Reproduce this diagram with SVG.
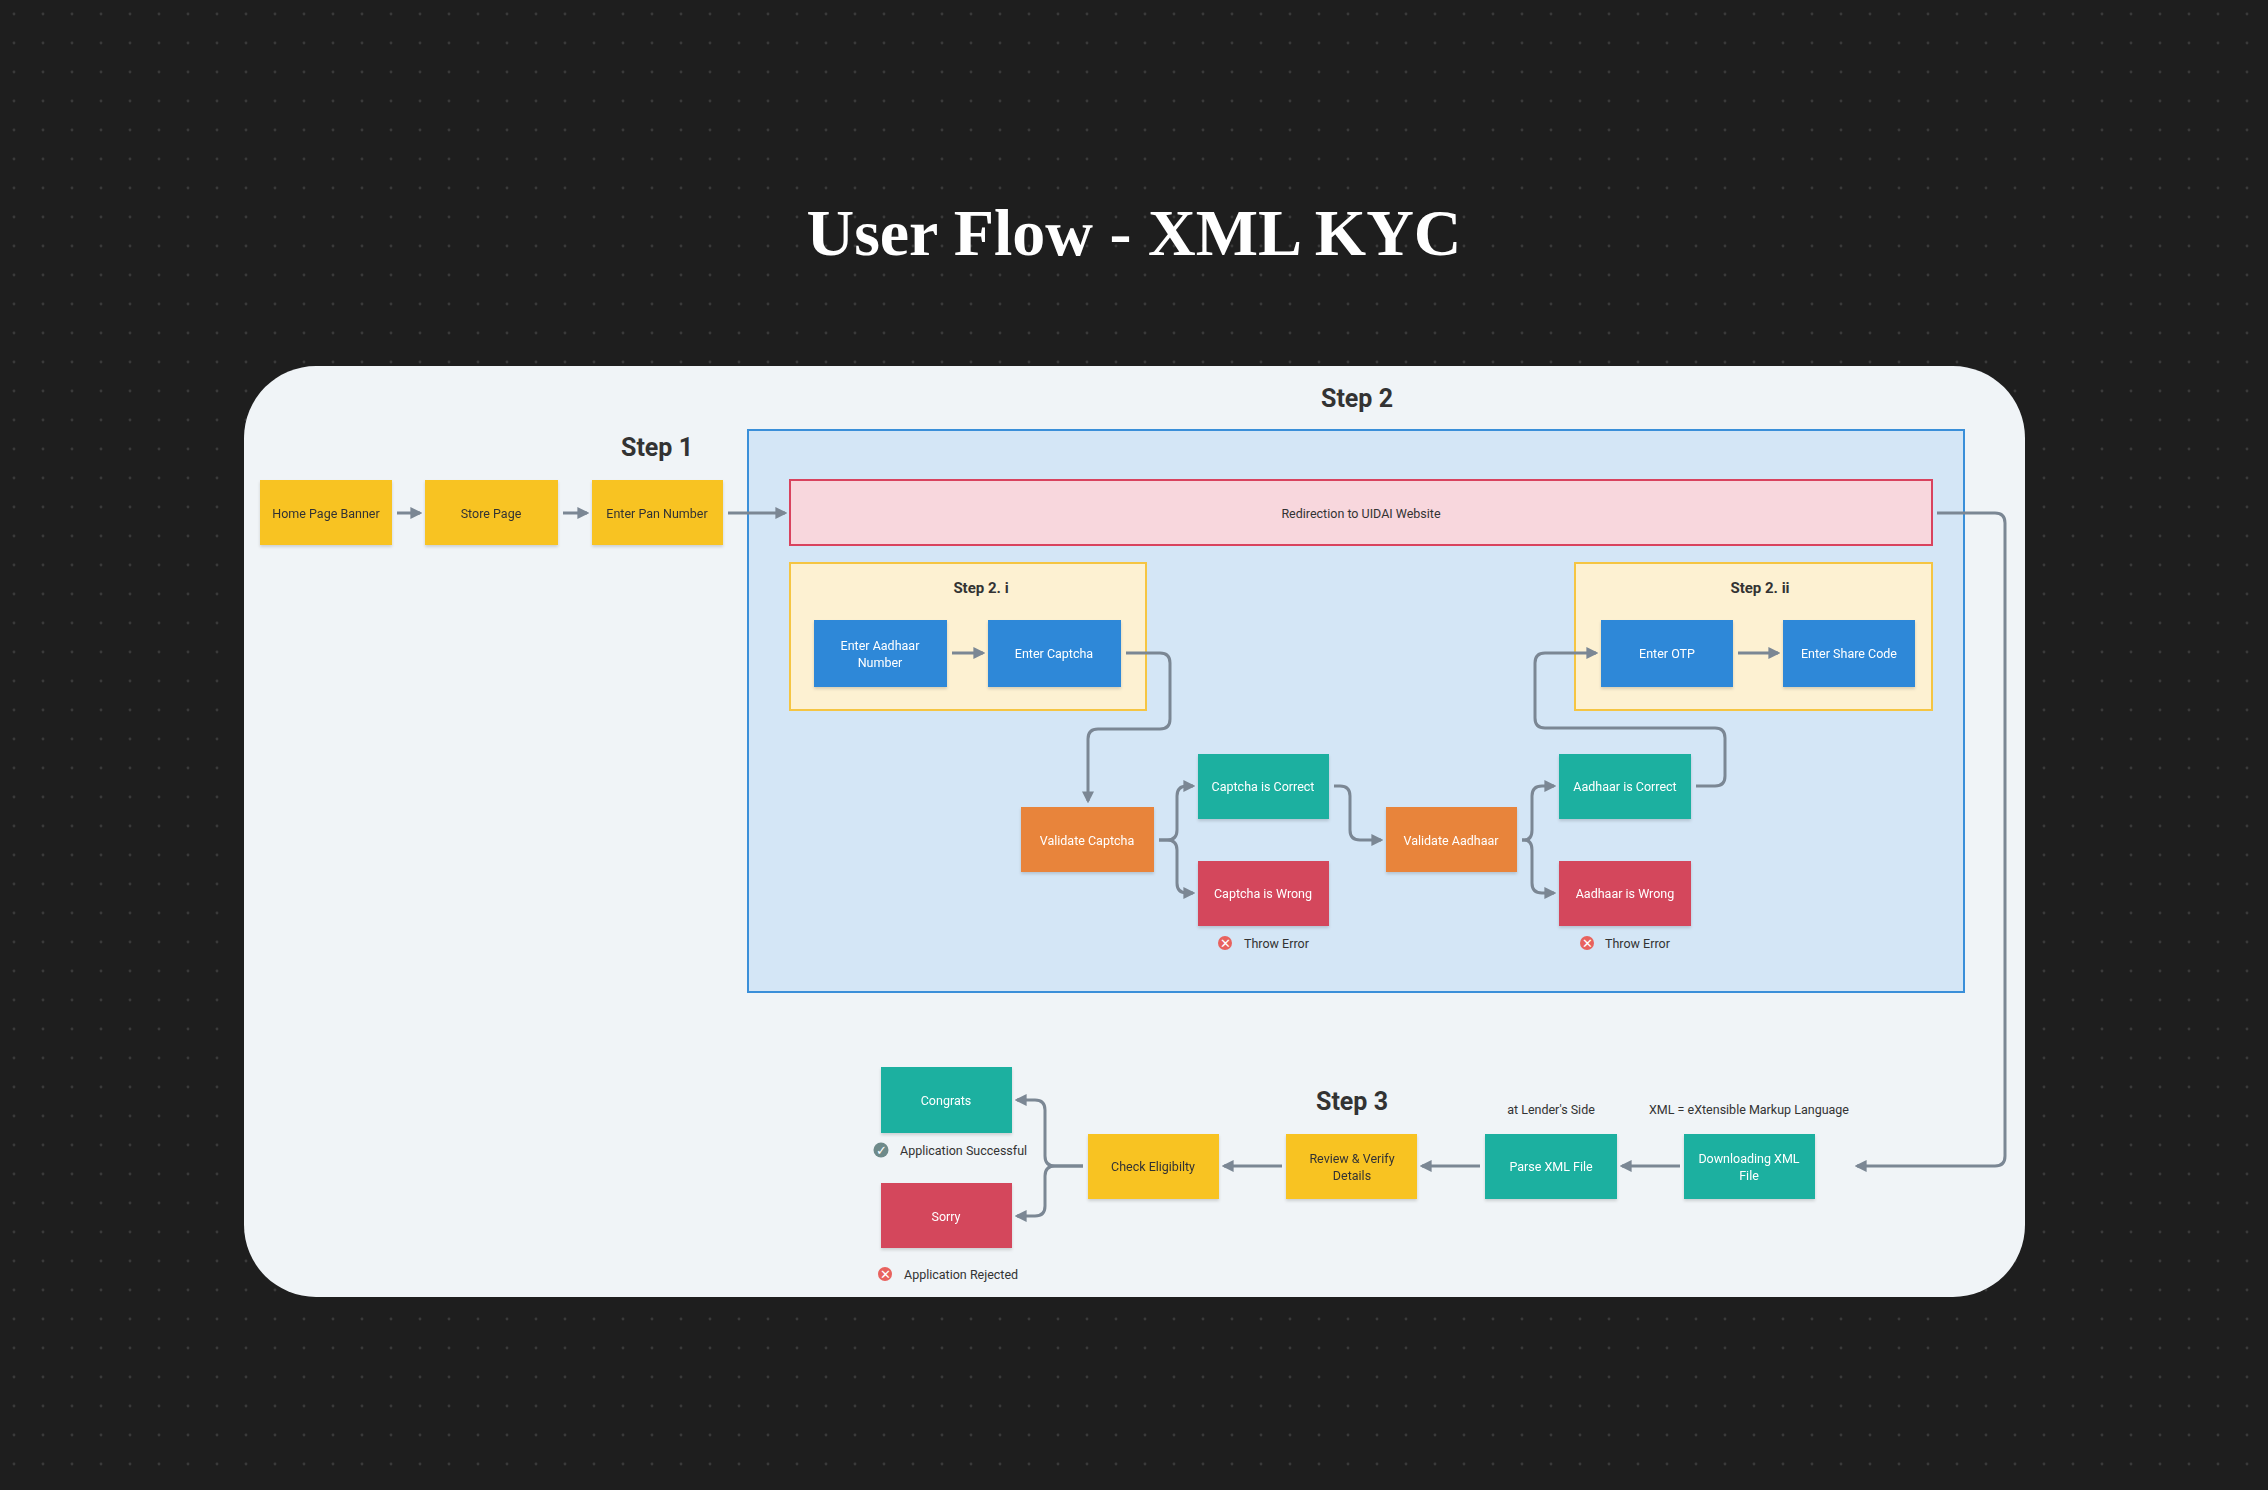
<svg xmlns="http://www.w3.org/2000/svg" width="2268" height="1490" viewBox="0 0 2268 1490">
<defs>
<pattern id="dots" width="29" height="29" patternUnits="userSpaceOnUse"><circle cx="14" cy="14" r="1.4" fill="#3a3a3a"/></pattern>
<marker id="ah" viewBox="0 0 10 10" refX="8" refY="5" markerWidth="4" markerHeight="4" orient="auto-start-reverse"><path d="M0,0 L10,5 L0,10 z" fill="#7b8794"/></marker>
<filter id="sh" x="-10%" y="-10%" width="120%" height="130%"><feDropShadow dx="0" dy="2" stdDeviation="1.5" flood-color="#000" flood-opacity="0.15"/></filter>
</defs>
<style>
.t{font-family:Roboto,"Liberation Sans",sans-serif;font-size:12.5px;text-anchor:middle;dominant-baseline:central}
.d{fill:#333}
.w{fill:#fff}
.h{font-family:Roboto,"Liberation Sans",sans-serif;font-weight:bold;fill:#333;text-anchor:middle}
.c{fill:none;stroke:#7b8794;stroke-width:3;marker-end:url(#ah)}
.y{fill:#f8c324}.b{fill:#2e88d8}.g{fill:#1bb0a0}.o{fill:#e8843b}.r{fill:#d4465c}
</style>
<rect width="2268" height="1490" fill="#1e1e1e"/>
<rect width="2268" height="1490" fill="url(#dots)"/>
<text x="1134" y="255" font-family="'Liberation Serif',serif" font-weight="bold" font-size="66" fill="#fff" text-anchor="middle">User Flow - XML KYC</text>
<rect x="244" y="366" width="1781" height="931" rx="72" fill="#f0f4f7"/>
<rect x="748" y="430" width="1216" height="562" fill="#d4e6f6" stroke="#3a8fd9" stroke-width="2"/>
<text class="h" x="657" y="456" font-size="25">Step 1</text>
<text class="h" x="1357" y="407" font-size="25">Step 2</text>
<text class="h" x="1352" y="1110" font-size="25">Step 3</text>
<g id="redirect"><rect x="790" y="480" width="1142" height="65" fill="#f8d7dd" stroke="#d9435e" stroke-width="2"/><text class="t d" x="1361" y="513">Redirection to UIDAI Website</text></g>
<g id="step2i"><rect x="790" y="563" width="356" height="147" fill="#fdf1d2" stroke="#f5c542" stroke-width="2"/><text class="h" x="981" y="593" font-size="15">Step 2. i</text></g>
<g id="step2ii"><rect x="1575" y="563" width="357" height="147" fill="#fdf1d2" stroke="#f5c542" stroke-width="2"/><text class="h" x="1760" y="593" font-size="15">Step 2. ii</text></g>
<g filter="url(#sh)">
<g id="home"><rect class="y" x="260" y="480" width="132" height="65"/><text class="t d" x="326" y="513">Home Page Banner</text></g>
<g id="store"><rect class="y" x="425" y="480" width="133" height="65"/><text class="t d" x="491" y="513">Store Page</text></g>
<g id="pan"><rect class="y" x="592" y="480" width="131" height="65"/><text class="t d" x="657" y="513">Enter Pan Number</text></g>
<g id="aadhaar"><rect class="b" x="814" y="620" width="133" height="67"/><text class="t w" x="880" y="645">Enter Aadhaar</text><text class="t w" x="880" y="662">Number</text></g>
<g id="captcha"><rect class="b" x="988" y="620" width="133" height="67"/><text class="t w" x="1054" y="653">Enter Captcha</text></g>
<g id="otp"><rect class="b" x="1601" y="620" width="132" height="67"/><text class="t w" x="1667" y="653">Enter OTP</text></g>
<g id="share"><rect class="b" x="1783" y="620" width="132" height="67"/><text class="t w" x="1849" y="653">Enter Share Code</text></g>
<g id="vcaptcha"><rect class="o" x="1021" y="807" width="133" height="65"/><text class="t w" x="1087" y="840">Validate Captcha</text></g>
<g id="ccorrect"><rect class="g" x="1198" y="754" width="131" height="65"/><text class="t w" x="1263" y="786">Captcha is Correct</text></g>
<g id="cwrong"><rect class="r" x="1198" y="861" width="131" height="65"/><text class="t w" x="1263" y="893">Captcha is Wrong</text></g>
<g id="vaadhaar"><rect class="o" x="1386" y="807" width="131" height="65"/><text class="t w" x="1451" y="840">Validate Aadhaar</text></g>
<g id="acorrect"><rect class="g" x="1559" y="754" width="132" height="65"/><text class="t w" x="1625" y="786">Aadhaar is Correct</text></g>
<g id="awrong"><rect class="r" x="1559" y="861" width="132" height="65"/><text class="t w" x="1625" y="893">Aadhaar is Wrong</text></g>
<g id="download"><rect class="g" x="1684" y="1134" width="131" height="65"/><text class="t w" x="1749" y="1158">Downloading XML</text><text class="t w" x="1749" y="1175">File</text></g>
<g id="parse"><rect class="g" x="1485" y="1134" width="132" height="65"/><text class="t w" x="1551" y="1166">Parse XML File</text></g>
<g id="review"><rect class="y" x="1286" y="1134" width="131" height="65"/><text class="t d" x="1352" y="1158">Review &amp; Verify</text><text class="t d" x="1352" y="1175">Details</text></g>
<g id="check"><rect class="y" x="1088" y="1134" width="131" height="65"/><text class="t d" x="1153" y="1166">Check Eligibilty</text></g>
<g id="congrats"><rect class="g" x="881" y="1067" width="131" height="66"/><text class="t w" x="946" y="1100">Congrats</text></g>
<g id="sorry"><rect class="r" x="881" y="1183" width="131" height="65"/><text class="t w" x="946" y="1216">Sorry</text></g>
</g>
<g id="notes">
<circle cx="1225" cy="943" r="7" fill="#e8625e"/><text x="1225" y="943" class="t w" font-size="9">✕</text><text x="1244" y="943" class="t d" text-anchor="start" style="text-anchor:start">Throw Error</text>
<circle cx="1587" cy="943" r="7" fill="#e8625e"/><text x="1587" y="943" class="t w" font-size="9">✕</text><text x="1605" y="943" class="t d" style="text-anchor:start">Throw Error</text>
<circle cx="881" cy="1150" r="7.5" fill="#6e8a8a"/><text x="881" y="1150" class="t w" font-size="9">✓</text><text x="900" y="1150" class="t d" style="text-anchor:start">Application Successful</text>
<circle cx="885" cy="1274" r="7" fill="#e8625e"/><text x="885" y="1274" class="t w" font-size="9">✕</text><text x="904" y="1274" class="t d" style="text-anchor:start">Application Rejected</text>
<text x="1551" y="1109" class="t d">at Lender's Side</text>
<text x="1749" y="1109" class="t d">XML = eXtensible Markup Language</text>
</g>
<g id="connectors">
<path class="c" d="M397,513 H420"/>
<path class="c" d="M563,513 H587"/>
<path class="c" d="M728,513 H785"/>
<path class="c" d="M952,653 H983"/>
<path class="c" d="M1738,653 H1778"/>
<path class="c" d="M1126,653 H1160 Q1170,653 1170,663 V719 Q1170,729 1160,729 H1098 Q1088,729 1088,739 V801"/>
<path class="c" d="M1159,840 H1167 Q1177,840 1177,830 V796 Q1177,786 1187,786 H1193"/>
<path class="c" d="M1159,840 H1167 Q1177,840 1177,850 V883 Q1177,893 1187,893 H1193"/>
<path class="c" d="M1334,786 H1340 Q1350,786 1350,796 V830 Q1350,840 1360,840 H1381"/>
<path class="c" d="M1522,840 H1524 Q1532,840 1532,830 V796 Q1532,786 1542,786 H1554"/>
<path class="c" d="M1522,840 H1524 Q1532,840 1532,850 V883 Q1532,893 1542,893 H1554"/>
<path class="c" d="M1696,786 H1715 Q1725,786 1725,776 V738 Q1725,728 1715,728 H1545 Q1535,728 1535,718 V663 Q1535,653 1545,653 H1596"/>
<path class="c" d="M1937,513 H1995 Q2005,513 2005,523 V1156 Q2005,1166 1995,1166 H1857"/>
<path class="c" d="M1680,1166 H1622"/>
<path class="c" d="M1480,1166 H1422"/>
<path class="c" d="M1282,1166 H1224"/>
<path class="c" d="M1083,1166 H1055 Q1045,1166 1045,1156 V1110 Q1045,1100 1035,1100 H1017"/>
<path class="c" d="M1083,1166 H1055 Q1045,1166 1045,1176 V1206 Q1045,1216 1035,1216 H1017"/>
</g>
</svg>
